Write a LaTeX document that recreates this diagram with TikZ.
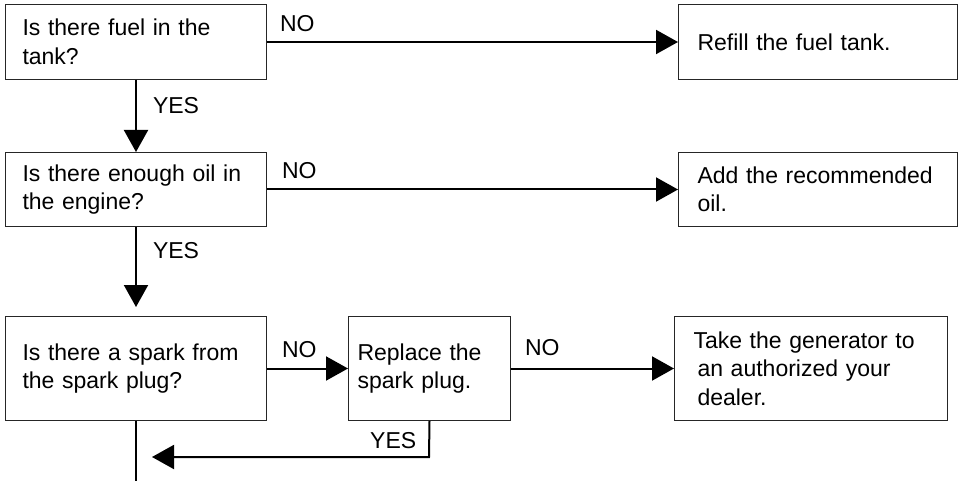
\documentclass[tikz,border=0pt]{standalone}
\usepackage{fontspec}
\setmainfont{Liberation Sans}
\usetikzlibrary{positioning,arrows.meta}
\newcommand{\flowfont}{\fontsize{23}{28.5}\selectfont}
\tikzset{
  box/.style={draw=black!85,line width=1pt,anchor=north west,align=left,
              inner ysep=0pt,font=\flowfont},
  flow/.style={line width=2pt,-{Triangle[length=22pt,width=24pt]}},
  wire/.style={line width=2pt},
  lbl/.style={inner sep=0pt,font=\flowfont},
}

\begin{document}
\begin{tikzpicture}[x=1pt,y=-1pt]
  \useasboundingbox (0,0) rectangle (963,481);
  % checks on the left
  \node[box,minimum width=261pt,minimum height=75pt,text width=227pt,inner xsep=17pt]
        (fuel) at (5,4) {Is there fuel in the\\tank?};
  \node[box,minimum width=261pt,minimum height=74pt,text width=227pt,inner xsep=17pt]
        (oil) at (5,152) {Is there enough oil in\\the engine?};
  \node[box,minimum width=261pt,minimum height=104pt,text width=227pt,inner xsep=17pt]
        (spark) at (5,316) {Is there a spark from\\the spark plug?};
  % remedies
  \node[box,minimum width=279pt,minimum height=75pt,text width=241pt,inner xsep=19pt]
        (refill) at (678,4) {Refill the fuel tank.};
  \node[box,minimum width=279pt,minimum height=74pt,text width=241pt,inner xsep=19pt]
        (addoil) at (678,152) {Add the recommended\\oil.};
  \node[box,minimum width=162pt,minimum height=104pt,text width=144pt,inner xsep=9pt]
        (replace) at (348,316) {Replace the\\spark plug.};
  \node[box,minimum width=273pt,minimum height=104pt,text width=235pt,inner xsep=19pt]
        (dealer) at (674,316) {Take the generator to\\\hspace*{4pt}an authorized your\\\hspace*{4pt}dealer.};
  \coordinate (turn) at (429,457);
  \coordinate (back) at (152,457);
  \coordinate (exit) at (0,481);
  % connectors
  \draw[flow] (fuel) -- node[lbl,pos=0,anchor=south west,xshift=12pt,yshift=9pt] {NO} (refill);
  \draw[flow] (oil) -- node[lbl,pos=0,anchor=south west,xshift=14pt,yshift=10pt] {NO} (addoil);
  \draw[flow] (spark) -- node[lbl,pos=0,anchor=south west,xshift=14pt,yshift=10pt] {NO} (replace);
  \draw[flow] (replace) -- node[lbl,pos=0,anchor=south west,xshift=13pt,yshift=12pt] {NO} (dealer);
  \draw[flow] (fuel) -- node[lbl,right=16pt,pos=0.35] {YES} (oil);
  \draw[flow] (oil) -- node[lbl,right=16pt,pos=0.3] {YES} ([yshift=9pt]spark.north);
  \draw[flow] (replace.south) -- node[lbl,left=12pt,pos=0.54] {YES} (turn) -- (back);
  \draw[wire] (spark.south) -- (spark.south |- exit);
\end{tikzpicture}
\end{document}
